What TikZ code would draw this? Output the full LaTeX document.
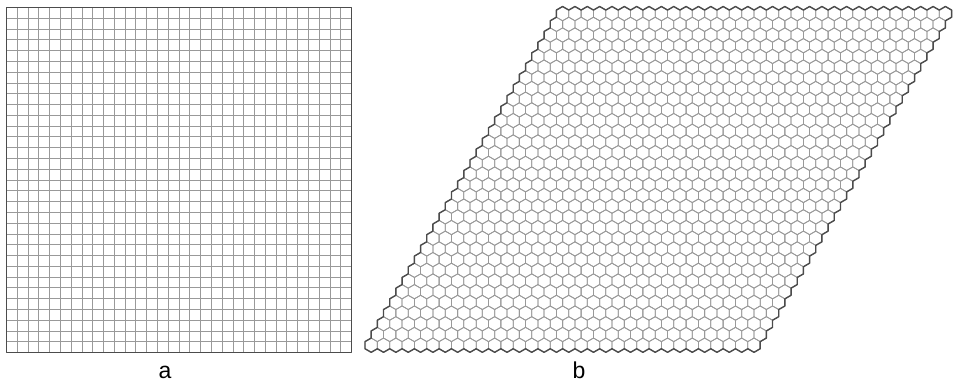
\documentclass[tikz,border=0pt]{standalone}
\usepackage{fontspec}
\setmainfont{Liberation Sans}
\begin{document}
\begin{tikzpicture}[x=1pt,y=-1pt,
  gridline/.style={draw=black!40, line width=0.8pt},
  borderline/.style={draw=black!70, line width=1.4pt, line cap=round, line join=round},
  hexline/.style={draw=black!40, line width=0.8pt, line join=round},
  lbl/.style={font=\fontsize{23}{26}\selectfont, anchor=base, inner sep=0pt}]
\useasboundingbox (0,0) rectangle (954,384);
% ---- a: square grid 32 x 32 ----
\foreach \k in {1,...,31} {
  \draw[gridline] ({6.5+\k*10.78125},7.5) -- ({6.5+\k*10.78125},352.5);
  \draw[gridline] (6.5,{7.5+\k*10.78125}) -- (351.5,{7.5+\k*10.78125});
}
\draw[borderline] (6.5,7.5) rectangle (351.5,352.5);
% ---- b: hexagonal lattice 32 x 32 ----
\foreach \j in {0,...,31} {
  \foreach \i in {0,...,31} {
    \pgfmathsetmacro\cx{562.6+\i*12.3495-\j*6.17475}
    \pgfmathsetmacro\cy{13.63+\j*10.695}
    \draw[hexline] (\cx,{\cy-7.13}) -- ({\cx+6.17475},{\cy-3.565}) -- ({\cx+6.17475},{\cy+3.565})
      -- (\cx,{\cy+7.13}) -- ({\cx-6.17475},{\cy+3.565}) -- ({\cx-6.17475},{\cy-3.565}) -- cycle;
  }
}
% boundary
\draw[borderline] ({562.6-6.17475},10.065)
  \foreach \i in {0,...,31} { -- ({562.6+\i*12.3495},6.5) -- ({562.6+\i*12.3495+6.17475},10.065) }
  \foreach \j in {0,...,30} { -- ({562.6+31*12.3495-\j*6.17475+6.17475},{17.195+\j*10.695})
                              -- ({562.6+31*12.3495-\j*6.17475},{20.76+\j*10.695}) }
  -- ({562.6+31*12.3495-31*6.17475+6.17475},348.74)
  \foreach \i in {31,30,...,0} { -- ({562.6+\i*12.3495-31*6.17475},352.305) -- ({562.6+\i*12.3495-31*6.17475-6.17475},348.74) }
  \foreach \j in {31,30,...,1} { -- ({562.6-\j*6.17475-6.17475},{10.065+\j*10.695})
                                 -- ({562.6-\j*6.17475},{6.5+\j*10.695}) }
  -- cycle;
% labels
\node[lbl] (la) at (165,378.5) {a};
\node[lbl] (lb) at (579,378.5) {b};
\end{tikzpicture}
\end{document}
